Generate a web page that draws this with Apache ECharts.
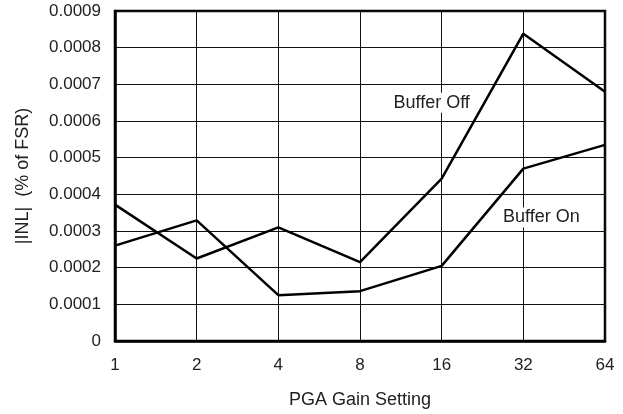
<!DOCTYPE html>
<html>
<head>
<meta charset="utf-8">
<script src="https://cdn.jsdelivr.net/npm/echarts@6/dist/echarts.min.js"></script>
<style>html,body{margin:0;padding:0;background:#fff}#c{width:623px;height:414px}</style>
</head>
<body>
<div id="c"></div>
<script>
var categories = ['1', '2', '4', '8', '16', '32', '64'];
var bufferOff = [0.000372, 0.000225, 0.000310, 0.000215, 0.000443, 0.000838, 0.000680];
var bufferOn = [0.000260, 0.000329, 0.000125, 0.000136, 0.000205, 0.000470, 0.000535];
var yTicks = { min: 0, max: 0.0009, interval: 0.0001 };

var font = 'Liberation Sans, Arial, Helvetica, sans-serif';
var chart = echarts.init(document.getElementById('c'), null, { renderer: 'canvas' });
var labelStyle = { color: '#222', fontFamily: font, fontSize: 18, backgroundColor: '#fff', padding: [1, 2] };
chart.setOption({
  animation: false,
  backgroundColor: '#fff',
  grid: { left: 115, right: 18, top: 11, bottom: 72, show: true, borderColor: '#000', borderWidth: 2.5, backgroundColor: 'transparent' },
  xAxis: {
    type: 'category', data: categories, boundaryGap: false,
    axisLine: { show: true, lineStyle: { color: '#000', width: 2.5 } },
    axisTick: { show: false },
    splitLine: { show: true, lineStyle: { color: '#111', width: 1 } },
    axisLabel: { color: '#222', fontFamily: font, fontSize: 17, margin: 16 },
    name: 'PGA Gain Setting', nameLocation: 'middle', nameGap: 50,
    nameTextStyle: { color: '#222', fontFamily: font, fontSize: 18 }
  },
  yAxis: {
    type: 'value', min: yTicks.min, max: yTicks.max, interval: yTicks.interval,
    axisLine: { show: true, lineStyle: { color: '#000', width: 2.5 } },
    axisTick: { show: false },
    splitLine: { show: true, lineStyle: { color: '#111', width: 1 } },
    axisLabel: { color: '#222', fontFamily: font, fontSize: 17, margin: 14,
      formatter: function (v) { return v === 0 ? '0' : v.toFixed(4); } },
    name: '|INL|  (% of FSR)', nameLocation: 'middle', nameGap: 83,
    nameTextStyle: { color: '#222', fontFamily: font, fontSize: 18 }
  },
  series: [
    {
      name: 'Buffer Off', type: 'line', data: bufferOff, symbol: 'none',
      lineStyle: { color: '#000', width: 2.5 }, z: 5,
      markPoint: {
        symbol: 'circle', symbolSize: 0,
        label: Object.assign({ show: true, formatter: 'Buffer Off', offset: [-10, 0] }, labelStyle),
        data: [{ coord: ['16', 0.00065] }]
      }
    },
    {
      name: 'Buffer On', type: 'line', data: bufferOn, symbol: 'none',
      lineStyle: { color: '#000', width: 2.5 }, z: 5,
      markPoint: {
        symbol: 'circle', symbolSize: 0,
        label: Object.assign({ show: true, formatter: 'Buffer On', offset: [18, 0] }, labelStyle),
        data: [{ coord: ['32', 0.000337] }]
      }
    }
  ]
});
</script>
</body>
</html>
